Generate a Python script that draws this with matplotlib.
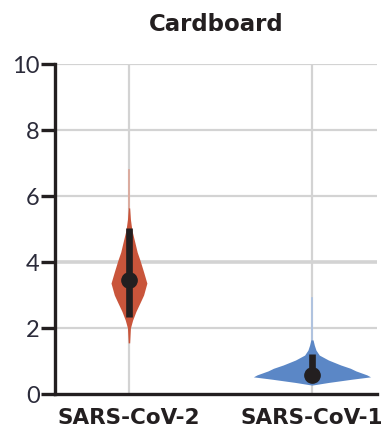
import matplotlib
matplotlib.use("Agg")
import matplotlib.pyplot as plt
import numpy as np

plt.rcParams['font.family'] = ['Lato', 'DejaVu Sans']

title = "Cardboard"
categories = ["SARS-CoV-2", "SARS-CoV-1"]
colors = ["#C9553B", "#5B87C6"]
tail_colors = ["#DDA596", "#A9C0E2"]
yticks = [0, 2, 4, 6, 8, 10]

# violin outlines: levels (log10 titer) and half-widths (category units)
cov2_levels = [1.55, 2.0, 2.24, 2.5, 2.76, 3.0, 3.36, 3.7, 4.06, 4.3, 4.58, 4.97, 5.3, 5.64]
cov2_halfw = [0.004, 0.008, 0.02, 0.038, 0.06, 0.08, 0.098, 0.08, 0.06, 0.045, 0.033, 0.016, 0.008, 0.004]
cov1_levels = [0.27, 0.35, 0.45, 0.52, 0.58, 0.62, 0.70, 0.78, 0.88, 1.03, 1.18, 1.33, 1.48, 1.64]
cov1_halfw = [0.0, 0.09, 0.22, 0.32, 0.30, 0.28, 0.24, 0.21, 0.157, 0.09, 0.04, 0.022, 0.013, 0.006]
tails = [(5.64, 6.79), (1.64, 2.9)]
medians = [3.45, 0.58]
q1 = [2.33, 0.42]
q3 = [5.03, 1.21]

fig = plt.figure(figsize=(3.85, 4.3), dpi=100)
ax = fig.add_axes([0.1429, 0.0837, 0.8361, 0.7674])
ax.set_xlim(-0.404, 1.355)
ax.set_ylim(0, 10)

grid_c = "#D3D3D3"
for y in yticks[1:]:
    ax.axhline(y, color=grid_c, lw=2.6 if y == 4 else 1.6, zorder=0)
for x in range(len(categories)):
    ax.axvline(x, color=grid_c, lw=1.6, zorder=0)

levels = [cov2_levels, cov1_levels]
halfw = [cov2_halfw, cov1_halfw]
for i in range(len(categories)):
    lv = np.array(levels[i])
    hw = np.array(halfw[i])
    ax.plot([i, i], tails[i], color=tail_colors[i], lw=1.2, zorder=2)
    ax.fill_betweenx(lv, i - hw, i + hw, color=colors[i], lw=0, zorder=3)
    ax.plot([i, i], [q1[i], q3[i]], color="#231F20", lw=4.8, solid_capstyle='butt', zorder=4)
    ax.plot(i, medians[i], 'o', color="#231F20", ms=11, zorder=5)

txt = "#231F20"
for s in ['top', 'right']:
    ax.spines[s].set_visible(False)
ax.spines['left'].set_linewidth(2.4)
ax.spines['bottom'].set_linewidth(2.4)
ax.spines['left'].set_color(txt)
ax.spines['bottom'].set_color(txt)

ax.set_yticks(yticks)
ax.set_yticklabels([str(v) for v in yticks], fontsize=17, color="#2B2B3A")
ax.tick_params(axis='y', length=10, width=2.4, color=txt, pad=1)
ax.set_xticks(range(len(categories)))
ax.set_xticklabels(categories, fontsize=15.5, fontweight='bold', color=txt,
                   family=['DejaVu Sans'])
ax.tick_params(axis='x', length=0, pad=10)

fig.text(0.561, 0.942, title, ha='center', va='center', fontsize=16.5, fontweight='bold',
         color=txt, family=['DejaVu Sans'])

fig.savefig("out.png", dpi=100)
